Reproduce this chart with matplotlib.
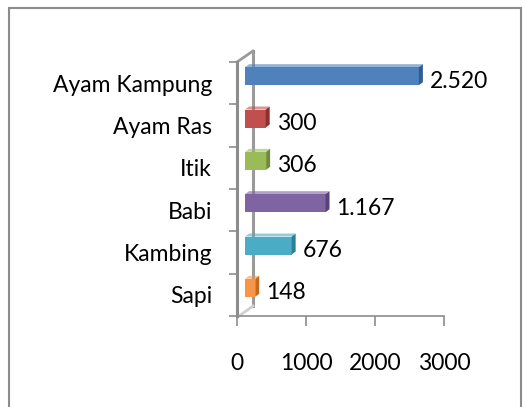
import matplotlib
matplotlib.use("Agg")
import matplotlib.pyplot as plt
import matplotlib.patches as patches
import numpy as np

# data
categories = ["Ayam Kampung", "Ayam Ras", "Itik", "Babi", "Kambing", "Sapi"]
values = [2520, 300, 306, 1167, 676, 148]
value_labels = ["2.520", "300", "306", "1.167", "676", "148"]
colors = ["#4F81BD", "#C0504D", "#9BBB59", "#8064A2", "#4BACC6", "#F79646"]
sides = ["#2F5D92", "#8E2F2C", "#6E8B37", "#58427A", "#2B7F96", "#C46A1E"]
xticks = [0, 1000, 2000, 3000]

W, H = 523, 407
fig = plt.figure(figsize=(W / 100, H / 100), dpi=100)
fig.patch.set_facecolor("white")

# outer chart border
fig.patches.append(patches.Rectangle((9 / W, -0.05), (521 - 9) / W, (H - 8) / H + 0.05,
                                     transform=fig.transFigure, fill=False,
                                     edgecolor="#8c8c8c", lw=1.5))

ax = fig.add_axes([237 / W, 91 / H, 207 / W, 254 / H])
ax.set_xlim(0, 3000)
ax.set_ylim(5.5, -0.5)

px = 3000 / 207.0          # data units per pixel along x
py = 6 / 254.0             # data units per pixel along y
dx = 8 * px                # 3d depth offset
shift = 7 * py
h = 18 * py
fs = 16.5

pos = np.arange(len(categories))
for i, v in enumerate(values):
    yc = pos[i] - shift
    ax.barh(yc, v, left=dx, height=h, color=colors[i], edgecolor="none", zorder=3)
    # right side face
    x0 = dx + v
    side = patches.Polygon([(x0, yc - h / 2), (x0, yc + h / 2),
                            (x0 + 4 * px, yc + h / 2 - 3 * py),
                            (x0 + 4 * px, yc - h / 2 - 3 * py)],
                           closed=True, facecolor=sides[i], edgecolor="none", zorder=3)
    ax.add_patch(side)
    # top face highlight
    top = patches.Polygon([(dx, yc - h / 2), (x0, yc - h / 2),
                           (x0 + 4 * px, yc - h / 2 - 3 * py),
                           (dx + 4 * px, yc - h / 2 - 3 * py)],
                          closed=True, facecolor=colors[i], alpha=0.6,
                          edgecolor="none", zorder=3)
    ax.add_patch(top)
    ax.text(x0 + 11 * px, pos[i] - 2 * py, value_labels[i], va="center", ha="left",
            fontsize=fs, family="Lato", color="black", zorder=4)

# back wall of the 3d chart
ax.plot([0, 16 * px], [-0.5, -0.5 - 11 * py], color="#9a9a9a", lw=2, clip_on=False, zorder=1)
ax.plot([16 * px, 16 * px], [-0.5 - 11 * py, 5.5 - 10 * py], color="#9a9a9a", lw=2.2,
        clip_on=False, zorder=1)
ax.plot([2 * px, 16 * px], [5.5, 5.5 - 10 * py], color="#d0d0d0", lw=2, clip_on=False, zorder=1)

ax.set_yticks(np.arange(-0.5, 6, 1), minor=False)
ax.set_yticklabels([])
ax.set_yticks(pos, minor=True)
ax.set_yticklabels(categories, minor=True, fontsize=fs, family="Lato")
ax.tick_params(axis="y", which="major", length=6, width=1.2, color="#8c8c8c", direction="out")
ax.tick_params(axis="y", which="minor", length=0, pad=18)

ax.set_xticks(xticks)
ax.set_xticklabels([str(t) for t in xticks], fontsize=fs, family="Lato")
ax.tick_params(axis="x", length=7, width=1.2, color="#8c8c8c", direction="out", pad=20)

for s in ["top", "right"]:
    ax.spines[s].set_visible(False)
ax.spines["left"].set_color("#8c8c8c")
ax.spines["left"].set_linewidth(2.2)
ax.spines["bottom"].set_color("#8c8c8c")
ax.spines["bottom"].set_linewidth(1.2)
ax.set_facecolor("none")

fig.savefig("out.png", dpi=100)
